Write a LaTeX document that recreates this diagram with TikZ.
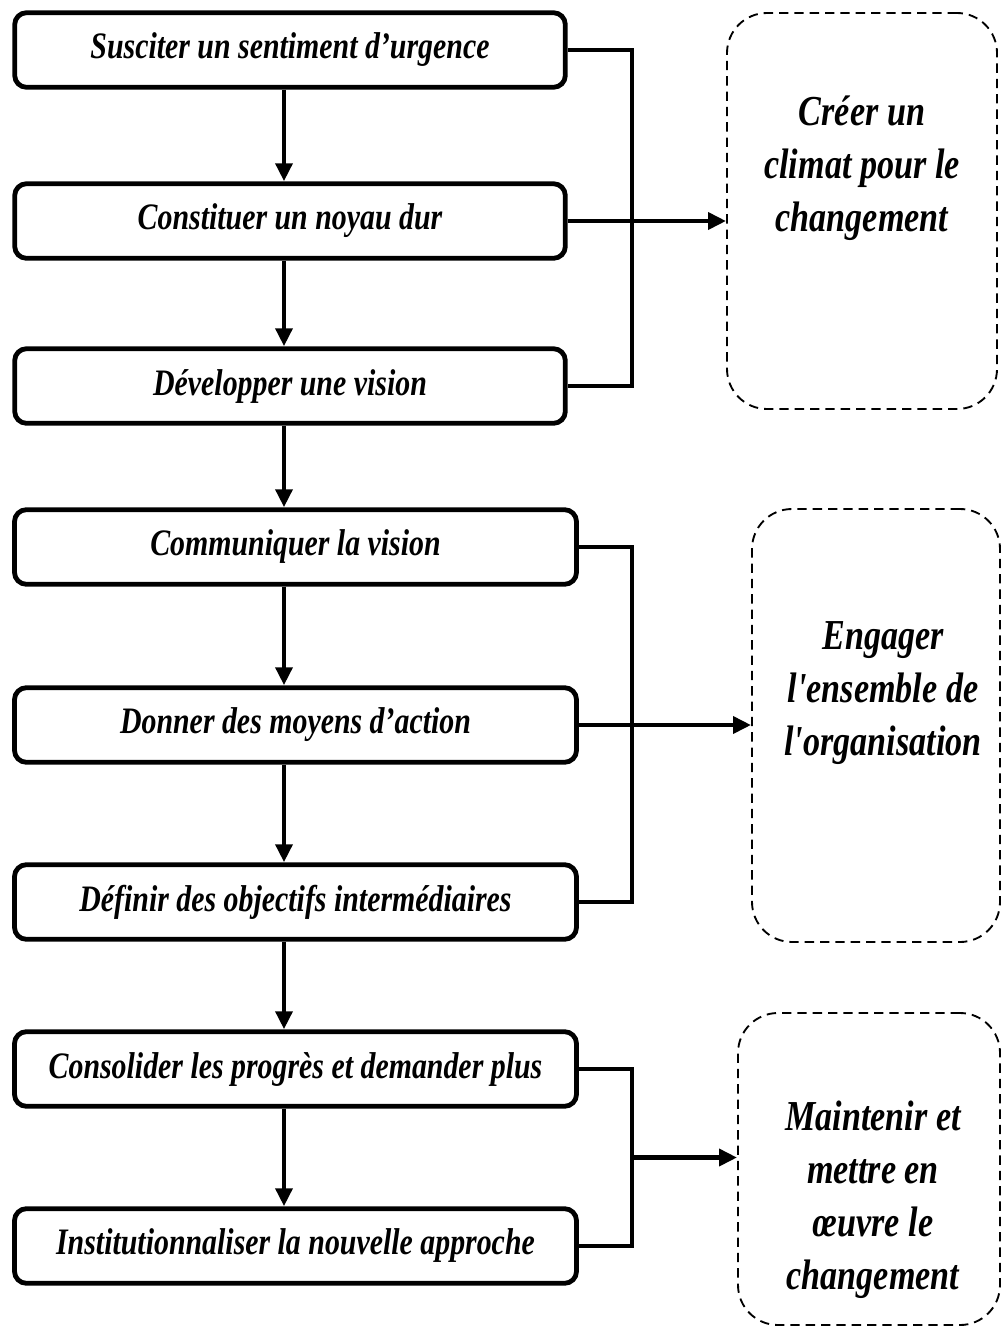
\documentclass[tikz,border=0pt]{standalone}
\usepackage{fontspec}
\usetikzlibrary{arrows.meta,calc}
\newfontfamily\stepfont[FakeStretch=0.8]{Liberation Serif}

\tikzset{
  stepbox/.style={draw=black, line width=3.6pt, rounded corners=9pt, fill=white,
    minimum height=56pt, inner sep=0pt,
    font=\stepfont\bfseries\itshape\fontsize{28}{32}\selectfont},
  groupbox/.style={draw=black, line width=1.4pt, dash pattern=on 7pt off 4.5pt,
    rounded corners=30pt, inner sep=0pt},
  grouptext/.style={align=center, anchor=north,
    font=\stepfont\bfseries\itshape\fontsize{32}{39.75}\selectfont},
  link/.style={line width=3.3pt},
  arr/.style={line width=3.3pt, -{Triangle[length=13.5pt,width=12.5pt]}},
}

\begin{document}
\begin{tikzpicture}[x=0.75pt, y=-0.75pt]
\useasboundingbox (0,0) rectangle (1002,1328);

% steps of the process
\node[stepbox, minimum width=413pt] (b1) at (290,50)  {Susciter un sentiment d’urgence};
\node[stepbox, minimum width=413pt] (b2) at (290,221) {Constituer un noyau dur};
\node[stepbox, minimum width=413pt] (b3) at (290,386) {Développer une vision};
\node[stepbox, minimum width=421.5pt] (b4) at (295.5,547) {Communiquer la vision};
\node[stepbox, minimum width=421.5pt] (b5) at (295.5,725) {Donner des moyens d’action};
\node[stepbox, minimum width=421.5pt] (b6) at (295.5,902) {Définir des objectifs intermédiaires};
\node[stepbox, minimum width=421.5pt] (b7) at (295.5,1069) {Consolider les progrès et demander plus};
\node[stepbox, minimum width=421.5pt] (b8) at (295.5,1246) {Institutionnaliser la nouvelle approche};

% phases
\node[groupbox, minimum width=202.5pt, minimum height=297pt] (d1) at (862,211) {};
\node[groupbox, minimum width=186pt, minimum height=324.75pt] (d2) at (876,725.5) {};
\node[groupbox, minimum width=196.5pt, minimum height=234pt] (d3) at (869,1169) {};

\node[grouptext] (t1) at (862,91) {Créer un\\climat pour le\\changement};
\node[grouptext] (t2) at (883,617) {Engager\\l'ensemble de\\l'organisation};
\node[grouptext] (t3) at (873,1096) {Maintenir et\\mettre en\\œuvre le\\changement};

% vertical flow
\coordinate (ax) at (284,0);
\draw[arr] (b1.south -| ax) -- (b2.north -| ax);
\draw[arr] (b2.south -| ax) -- (b3.north -| ax);
\draw[arr] (b3.south -| ax) -- (b4.north -| ax);
\draw[arr] (b4.south -| ax) -- (b5.north -| ax);
\draw[arr] (b5.south -| ax) -- (b6.north -| ax);
\draw[arr] (b6.south -| ax) -- (b7.north -| ax);
\draw[arr] (b7.south -| ax) -- (b8.north -| ax);

% brackets to the phases
\coordinate (bx) at (632,0);
\draw[link] (b1.east) -- (b1.east -| bx) -- (b3.east -| bx) -- (b3.east);
\draw[arr] (b2.east) -- (b2.east -| d1.west);
\draw[link] (b4.east) -- (b4.east -| bx) -- (b6.east -| bx) -- (b6.east);
\draw[arr] (b5.east) -- (b5.east -| d2.west);
\draw[link] (b7.east) -- (b7.east -| bx) -- (b8.east -| bx) -- (b8.east);
\coordinate (m3) at ($(b7.east -| bx)!0.5!(b8.east -| bx)$);
\draw[arr] (m3) -- (m3 -| d3.west);
\end{tikzpicture}
\end{document}
